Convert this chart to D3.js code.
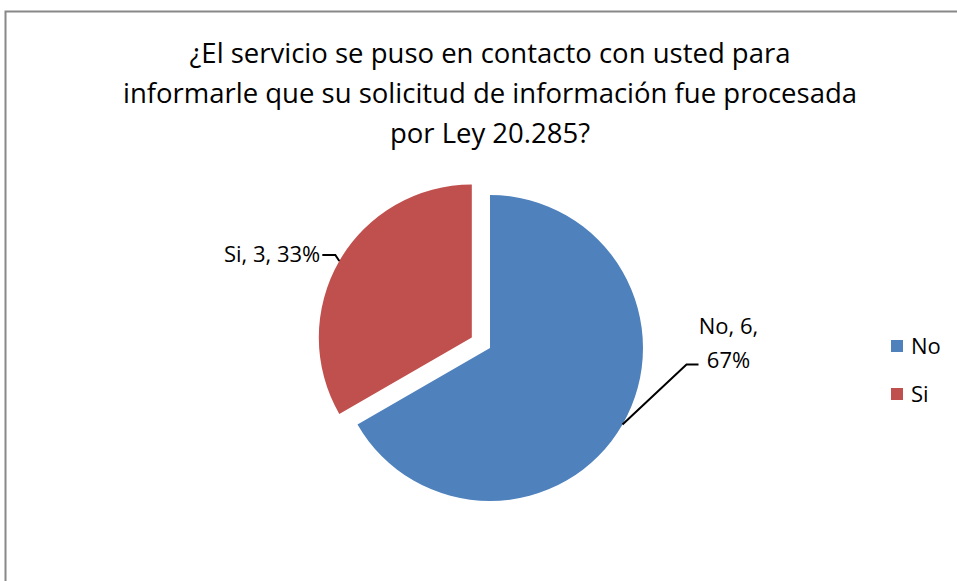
<!DOCTYPE html>
<html>
<head>
<meta charset="utf-8">
<script src="https://cdn.jsdelivr.net/npm/d3@7"></script>
<style>
  body { margin: 0; background: #fff; }
  text { font-family: "Open Sans", "Noto Sans", sans-serif; fill: #000; }
</style>
</head>
<body>
<div id="chart"></div>
<script>
// chart data
const categories = ['No', 'Si'];
const values = [6, 3];
const titleLines = [
  '¿El servicio se puso en contacto con usted para',
  'informarle que su solicitud de información fue procesada',
  'por Ley 20.285?'
];

const width = 957, height = 581;
const cx = 490, cy = 348, radius = 153;
const explode = 21; // the Si slice is pulled out

const svg = d3.select('#chart').append('svg')
  .attr('width', width)
  .attr('height', height);

// outer frame (bottom and right run off the picture)
svg.append('path')
  .attr('d', 'M5.5,' + (height + 2) + 'V11.5H' + (width + 2))
  .attr('fill', 'none')
  .attr('stroke', '#888')
  .attr('stroke-width', 2);

// title
svg.append('g').selectAll('text')
  .data(titleLines)
  .enter()
  .append('text')
  .attr('x', 490)
  .attr('y', (d, i) => 63 + i * 40)
  .attr('text-anchor', 'middle')
  .style('font-size', '27.5px')
  .text(d => d);

const color = d3.scaleOrdinal().domain(categories).range(['#4F81BD', '#C0504D']);
const total = d3.sum(values);

const pie = d3.pie().sort(null).value(d => d.value);
const data_ready = pie(categories.map((c, i) => ({ key: c, value: values[i] })));

const arc = d3.arc().innerRadius(0).outerRadius(radius);

function mid(d) { return (d.startAngle + d.endAngle) / 2; }
function offset(d) {
  const k = d.data.key === 'Si' ? explode : 0;
  const a = mid(d);
  return [k * Math.sin(a), -k * Math.cos(a)];
}

const g = svg.append('g').attr('transform', 'translate(' + cx + ',' + cy + ')');

g.selectAll('path.slice')
  .data(data_ready)
  .enter()
  .append('path')
  .attr('class', 'slice')
  .attr('d', arc)
  .attr('transform', d => 'translate(' + offset(d) + ')')
  .attr('fill', d => color(d.data.key));

// leader lines and labels
data_ready.forEach(d => {
  const o = offset(d);
  const a = mid(d);
  const posA = [o[0] + radius * Math.sin(a), o[1] - radius * Math.cos(a)];
  const pct = Math.round(d.data.value / total * 100) + '%';
  if (a < Math.PI) {
    const posB = [posA[0] + 64, posA[1] - 60];
    const posC = [posB[0] + 12, posB[1]];
    g.append('polyline')
      .attr('points', [posA, posB, posC].join(' '))
      .attr('fill', 'none').attr('stroke', '#000').attr('stroke-width', 2);
    const t = g.append('text')
      .attr('text-anchor', 'middle')
      .style('font-size', '22px');
    t.append('tspan').attr('x', posC[0] + 30).attr('y', posB[1] - 31).text(d.data.key + ', ' + d.data.value + ',');
    t.append('tspan').attr('x', posC[0] + 30).attr('y', posB[1] + 3).text(pct);
  } else {
    const posB = [posA[0] - 4, posA[1] - 6];
    const posC = [posB[0] - 13, posB[1]];
    g.append('polyline')
      .attr('points', [posA, posB, posC].join(' '))
      .attr('fill', 'none').attr('stroke', '#000').attr('stroke-width', 2);
    g.append('text')
      .attr('x', posC[0] - 2)
      .attr('y', posC[1] + 7)
      .attr('text-anchor', 'end')
      .style('font-size', '22px')
      .text(d.data.key + ', ' + d.data.value + ', ' + pct);
  }
});

// legend
const legend = svg.append('g').attr('transform', 'translate(891,340)');
const item = legend.selectAll('g')
  .data(categories)
  .enter()
  .append('g')
  .attr('transform', (d, i) => 'translate(0,' + i * 48 + ')');
item.append('rect')
  .attr('width', 12).attr('height', 12)
  .attr('fill', d => color(d));
item.append('text')
  .attr('x', 20).attr('y', 14)
  .style('font-size', '22px')
  .text(d => d);
</script>
</body>
</html>
